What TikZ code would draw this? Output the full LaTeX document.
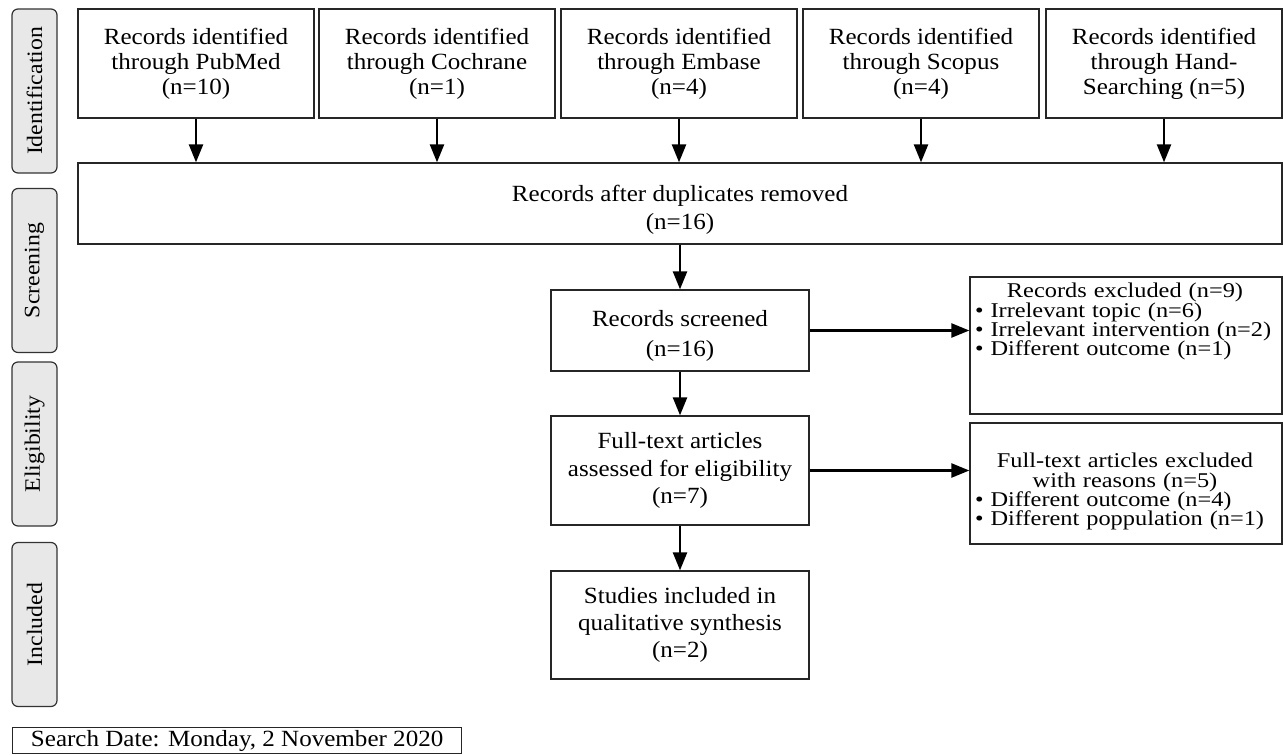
\documentclass[tikz,border=0pt]{standalone}
\usepackage{fontspec}
\setmainfont{Liberation Serif}[FakeStretch=1.08]
\newfontfamily\etroit{Liberation Serif}[FakeStretch=1.16]
\usetikzlibrary{arrows.meta,positioning}
\newcommand{\serre}{\lineskiplimit=-6pt\relax\lineskip=0pt\relax}
\tikzstyle{boite}=[draw=black!85, line width=0.65pt, align=center, inner sep=2pt, font=\fontsize{11.6}{12.5}\selectfont]
\tikzstyle{source}=[boite, minimum width=118pt, minimum height=54.5pt]
\tikzstyle{etape}=[boite, minimum width=129pt, font=\fontsize{11.6}{13.5}\selectfont]
\tikzstyle{exclu}=[boite, text width=151pt, inner sep=2.5pt, align=left, font=\etroit\fontsize{10.5}{9.7}\selectfont\serre]
\tikzstyle{phase}=[draw=black!80, fill=black!9, line width=0.6pt, rounded corners=3pt, rotate=90, minimum width=82pt, minimum height=22.5pt, inner sep=0pt, font=\fontsize{11}{12}\selectfont]
\tikzstyle{fleche}=[-{Triangle[length=9pt,width=7pt]}, line width=1.2pt]

\begin{document}
\begin{tikzpicture}[x=0.5pt, y=-0.5pt]
\useasboundingbox (0,0) rectangle (1283,754);

% phases
\node[phase] (identif) at (34.5,91) {Identification};
\node[phase] (screening) at (34.5,270.5) {Screening};
\node[phase] (eligib) at (34.5,444) {Eligibility};
\node[phase] (included) at (34.5,624.5) {Included};

% sources
\node[source] (pubmed) at (196,63.5) {Records identified\\through PubMed\\(n=10)};
\node[source] (cochrane) at (437,63.5) {Records identified\\through Cochrane\\(n=1)};
\node[source] (embase) at (679,63.5) {Records identified\\through Embase\\(n=4)};
\node[source] (scopus) at (921,63.5) {Records identified\\through Scopus\\(n=4)};
\node[source] (hand) at (1164,63.5) {Records identified\\through Hand-\\Searching (n=5)};

% doublons
\node[boite, minimum width=602pt, minimum height=40.5pt, font=\fontsize{11.6}{14}\selectfont] (dup) at (680,203.5) {\rule{0pt}{14pt}Records after duplicates removed\\(n=16)};

% tri
\node[etape, minimum height=40.5pt, font=\fontsize{11.6}{15}\selectfont] (screened) at (680,330.5) {\rule{0pt}{13pt}Records screened\\(n=16)};
\node[etape, minimum height=54.5pt, font=\fontsize{11.6}{13.75}\selectfont] (fulltext) at (680,470.5) {Full-text articles\\assessed for eligibility\\(n=7)};
\node[etape, minimum height=54pt] (studies) at (680,625) {Studies included in\\qualitative synthesis\\(n=2)};

% exclusions
\node[exclu, minimum height=68.5pt] (excl1) at (1126,345.5) {\makebox[150pt]{Records excluded (n=9)}\\• Irrelevant topic (n=6)\\• Irrelevant intervention (n=2)\\• Different outcome (n=1)\rule[-26pt]{0pt}{1pt}};
\node[exclu, minimum height=60.5pt] (excl2) at (1126,483.5) {\makebox[150pt]{\rule{0pt}{15.5pt}Full-text articles excluded}\\\makebox[150pt]{with reasons (n=5)}\\• Different outcome (n=4)\\• Different poppulation (n=1)};

% date
\node[boite, anchor=north west, minimum width=224.5pt, minimum height=13pt, inner sep=1pt] (date) at (12,727) {Search Date: Monday, 2 November 2020};

% fleches
\foreach \s in {pubmed,cochrane,embase,scopus,hand}
    \draw[fleche] (\s) -- (\s |- dup.north);
\draw[fleche] (dup) -- (screened);
\draw[fleche] (screened) -- (fulltext);
\draw[fleche] (fulltext) -- (studies);
\draw[fleche] (screened) -- (screened -| excl1.west);
\draw[fleche] (fulltext) -- (fulltext -| excl2.west);

\end{tikzpicture}
\end{document}
